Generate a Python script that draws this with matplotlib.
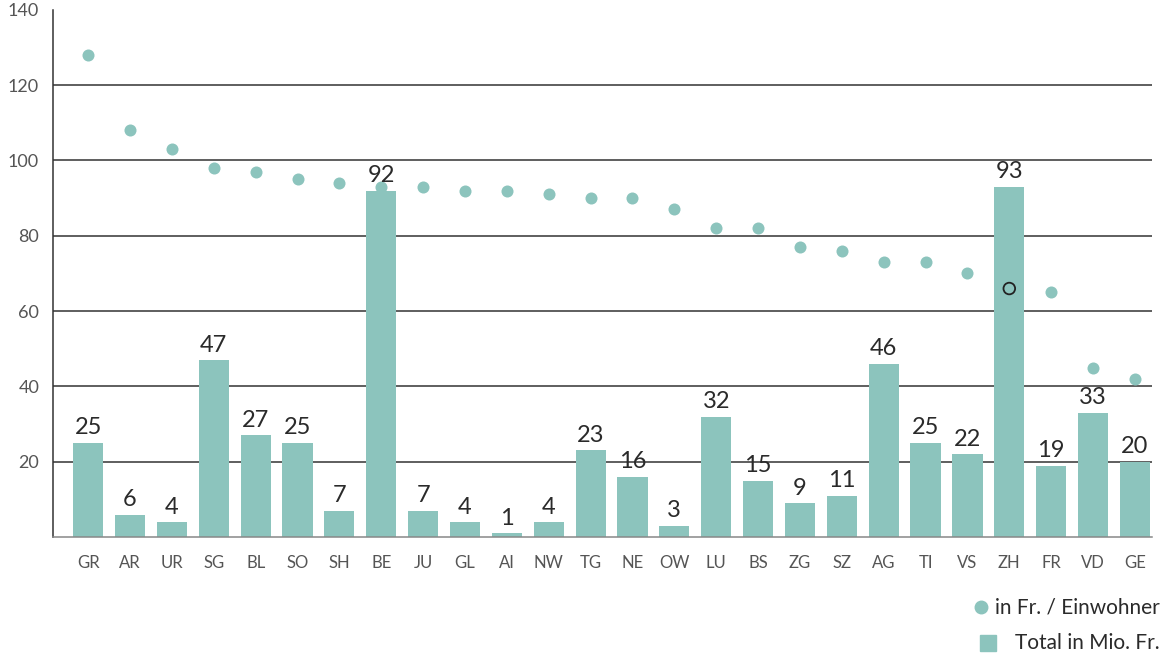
import matplotlib.pyplot as plt
from matplotlib.lines import Line2D

# Kantone, Total in Mio. Fr. und Franken pro Einwohner
kantone = ['GR', 'AR', 'UR', 'SG', 'BL', 'SO', 'SH', 'BE', 'JU', 'GL', 'AI', 'NW', 'TG',
           'NE', 'OW', 'LU', 'BS', 'ZG', 'SZ', 'AG', 'TI', 'VS', 'ZH', 'FR', 'VD', 'GE']
total_mio = [25, 6, 4, 47, 27, 25, 7, 92, 7, 4, 1, 4, 23,
             16, 3, 32, 15, 9, 11, 46, 25, 22, 93, 19, 33, 20]
pro_einwohner = [128, 108, 103, 98, 97, 95, 94, 93, 93, 92, 92, 91, 90,
                 90, 87, 82, 82, 77, 76, 73, 73, 70, 66, 65, 45, 42]
y_ticks = [20, 40, 60, 80, 100, 120, 140]

teal = '#8cc4bd'
dark = '#333333'
plt.rcParams['font.family'] = ['Lato', 'DejaVu Sans']

fig = plt.figure(figsize=(11.68, 6.55), dpi=100)
ax = fig.add_axes([0.0454, 0.180, 0.9406, 0.805])

x = range(len(kantone))
ax.bar(x, total_mio, width=0.72, color=teal, zorder=2)

# ZH als leerer Kreis, alle anderen gefuellt
for i, v in enumerate(pro_einwohner):
    if kantone[i] == 'ZH':
        ax.scatter(i, v, s=70, facecolor='none', edgecolor='#222222', linewidth=1.3, zorder=4)
    else:
        ax.scatter(i, v, s=75, color=teal, zorder=3, linewidth=0)

for i, v in enumerate(total_mio):
    ax.text(i, v + 1.2, str(v), ha='center', va='bottom', fontsize=17,
            color='#2a2a2a', zorder=5)

ax.set_xlim(-0.84, 25.4)
ax.set_ylim(0, 140)
ax.set_xticks(list(x))
ax.set_xticklabels(kantone)
ax.set_yticks(y_ticks)
ax.tick_params(length=0, labelsize=12, labelcolor='#555555')
ax.tick_params(axis='y', labelsize=13, pad=10)
ax.tick_params(axis='x', pad=13)

for yv in y_ticks[:-1]:
    ax.axhline(yv, color=dark, linewidth=1.1, zorder=1)

for s in ['top', 'right']:
    ax.spines[s].set_visible(False)
ax.spines['left'].set_color(dark)
ax.spines['bottom'].set_color('#888888')
ax.spines['left'].set_linewidth(1.1)
ax.spines['bottom'].set_linewidth(1.1)

# Legende unten rechts, Text rechtsbuendig
fig.text(0.993, 0.073, 'in Fr. / Einwohner', ha='right', va='center',
         fontsize=15, color='#2a2a2a')
fig.text(0.993, 0.018, 'Total in Mio. Fr.', ha='right', va='center',
         fontsize=15, color='#2a2a2a')
fig.add_artist(Line2D([0.840], [0.073], marker='o', markersize=9, color=teal,
                      linestyle='none', transform=fig.transFigure))
fig.add_artist(Line2D([0.846], [0.018], marker='s', markersize=11, color=teal,
                      linestyle='none', transform=fig.transFigure))

fig.savefig('out.png', dpi=100)
